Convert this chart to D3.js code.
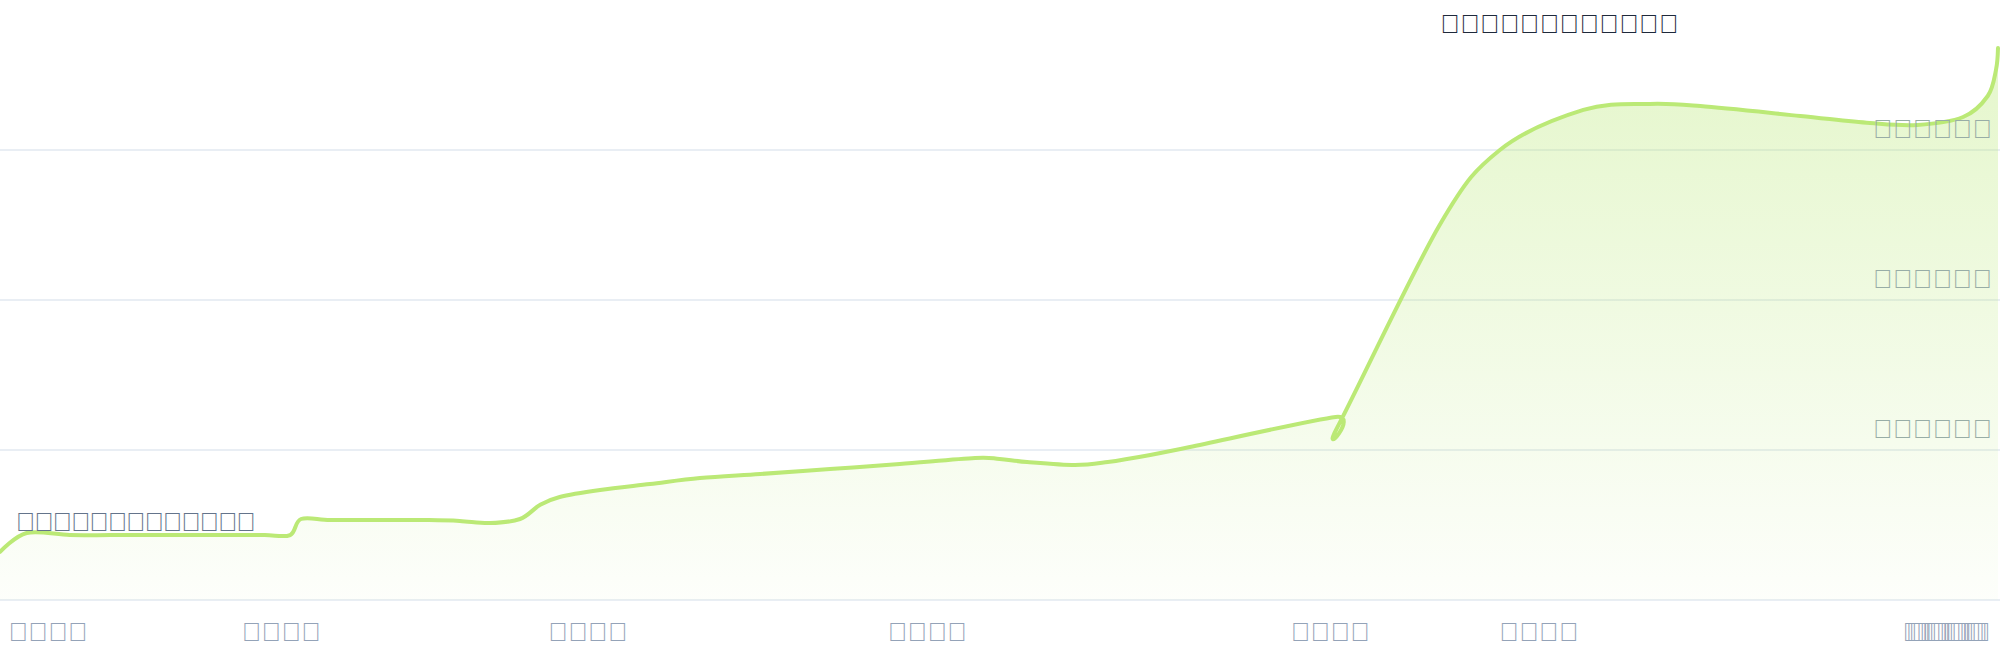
<!DOCTYPE html>
<html>
<head>
<meta charset="utf-8">
<script src="https://cdn.jsdelivr.net/npm/d3@7"></script>
<style>
  html, body { margin: 0; padding: 0; background: #fff; }
  svg { display: block; font-family: sans-serif; }
</style>
</head>
<body>
<svg id="chart" width="2000" height="660"></svg>
<script>
// cumulative total, x = days since the first record
const days = [0, 39, 102, 161, 219, 278, 336, 387, 424, 440, 482, 541, 585, 627, 672, 716, 760, 789, 818, 877, 950, 1023, 1111, 1213, 1315, 1425, 1461, 1501, 1571, 1619, 1681, 1739, 1952, 1954, 2104, 2192, 2314, 2411, 2485, 2631, 2733, 2802, 2869, 2905, 2917, 2920]
const totals = [320, 447, 433, 433, 433, 433, 433, 433, 433, 540, 533, 533, 533, 533, 527, 513, 540, 633, 687, 733, 773, 813, 840, 873, 907, 947, 940, 920, 900, 920, 967, 1020, 1220, 1147, 2500, 3000, 3267, 3307, 3293, 3227, 3180, 3167, 3220, 3360, 3533, 3680]

// the labels only show as missing-glyph boxes in the reference, so they are kept as such
const tickDays = [70, 411, 859, 1355, 1944, 2249, 2838, 2843, 2847, 2851]
const tickLabels = [
	'\uE000\uE001\uE002\uE003', '\uE000\uE001\uE002\uE004', '\uE000\uE001\uE002\uE005',
	'\uE000\uE001\uE002\uE006', '\uE000\uE001\uE002\uE007', '\uE000\uE001\uE002\uE008',
	'\uE000\uE001\uE002\uE009', '\uE000\uE001\uE002\uE00A', '\uE000\uE001\uE002\uE00B',
	'\uE000\uE001\uE002\uE00C'
]

const yTicks = [1000, 2000, 3000]
const yTickLabels = ['\uE011\uE010\uE010\uE010\uE020\uE021', '\uE012\uE010\uE010\uE010\uE020\uE021', '\uE013\uE010\uE010\uE010\uE020\uE021']

const startNote = '\uE030\uE031\uE032\uE033\uE034\uE035\uE036\uE037\uE038\uE039\uE03A\uE03B\uE03C'
const endNote = '\uE030\uE031\uE032\uE033\uE034\uE035\uE036\uE037\uE038\uE040\uE041\uE042'

const lineColor = '#bbe976'
const fontSize = '26.5px'

const svg = d3.select('#chart')
const width = 2000

const x = d3.scaleLinear().domain([0, 2920]).range([0, 1998])
const y = d3.scaleLinear().domain([0, 4000]).range([600, 0])

const data = days.map((d, i) => ({ day: d, value: totals[i] }))

const defs = svg.append('defs')
const grad = defs.append('linearGradient')
	.attr('id', 'fillGrad')
	.attr('x1', 0).attr('y1', 0).attr('x2', 0).attr('y2', 1)
grad.append('stop').attr('offset', '0%').attr('stop-color', '#b9e876').attr('stop-opacity', 0.38)
grad.append('stop').attr('offset', '100%').attr('stop-color', '#b9e876').attr('stop-opacity', 0.03)

// grid
svg.append('g')
	.selectAll('line')
	.data(yTicks)
	.enter()
	.append('line')
	.attr('x1', 0).attr('x2', width)
	.attr('y1', d => y(d)).attr('y2', d => y(d))
	.attr('stroke', '#e2e8f0')
	.attr('stroke-width', 1.5)

svg.append('line')
	.attr('x1', 0).attr('x2', width)
	.attr('y1', y(0)).attr('y2', y(0))
	.attr('stroke', '#e2e8f0')
	.attr('stroke-width', 1.5)

const area = d3.area()
	.x(d => x(d.day))
	.y0(y(0))
	.y1(d => y(d.value))
	.curve(d3.curveCardinal)

const line = d3.line()
	.x(d => x(d.day))
	.y(d => y(d.value))
	.curve(d3.curveCardinal)

svg.append('path')
	.datum(data)
	.attr('d', area)
	.attr('fill', 'url(#fillGrad)')

svg.append('path')
	.datum(data)
	.attr('d', line)
	.attr('fill', 'none')
	.attr('stroke', lineColor)
	.attr('stroke-width', 4)
	.attr('stroke-linecap', 'round')
	.attr('stroke-linejoin', 'round')

// y labels, right aligned inside the plot
svg.append('g')
	.selectAll('text')
	.data(yTicks)
	.enter()
	.append('text')
	.attr('x', 1992)
	.attr('y', d => y(d) - 12.5)
	.attr('text-anchor', 'end')
	.attr('fill', '#98ada6')
	.style('font-size', fontSize)
	.text((d, i) => yTickLabels[i])

// x labels
svg.append('g')
	.selectAll('text')
	.data(tickDays)
	.enter()
	.append('text')
	.attr('x', d => x(d))
	.attr('y', 641)
	.attr('text-anchor', 'middle')
	.attr('fill', '#94a3b8')
	.style('font-size', fontSize)
	.text((d, i) => tickLabels[i])

svg.append('text')
	.attr('x', 15.5).attr('y', 531)
	.attr('fill', '#64748b')
	.style('font-size', fontSize)
	.style('letter-spacing', '-1.5px')
	.style('font-weight', 600)
	.text(startNote)

svg.append('text')
	.attr('x', 1440).attr('y', 33)
	.attr('fill', '#1e293b')
	.style('font-size', fontSize)
	.style('font-weight', 600)
	.text(endNote)
</script>
</body>
</html>
